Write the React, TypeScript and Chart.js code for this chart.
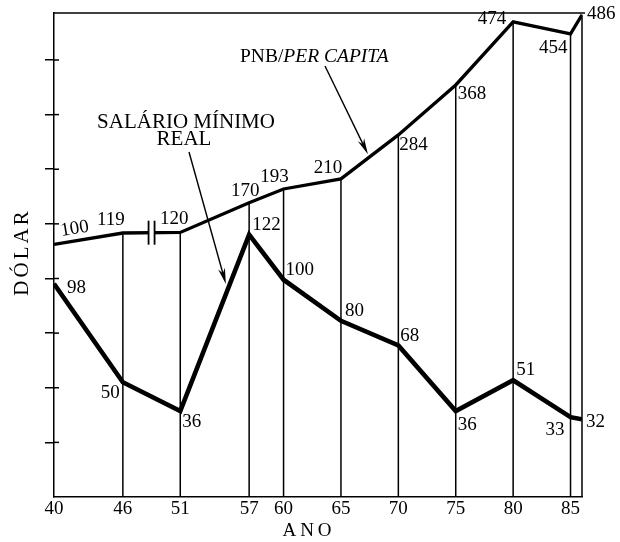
import React, { useEffect, useRef } from 'react';
import { Chart, registerables } from 'chart.js';

Chart.register(...registerables);

// ---- data ----
const anos: number[] = [40, 46, 51, 57, 60, 65, 70, 75, 80, 85, 86];
const anosRotulados: number[] = [40, 46, 51, 57, 60, 65, 70, 75, 80, 85];
const pnbPerCapita: number[] = [100, 119, 120, 170, 193, 210, 284, 368, 474, 454, 486];
const salarioMinimoReal: number[] = [98, 50, 36, 122, 100, 80, 68, 36, 51, 33, 32];
const marcasDolar: number[] = [1, 2, 3, 4, 5, 6, 7, 8];

const tituloX = 'ANO';
const tituloY = 'DÓLAR';
const rotuloPnbA = 'PNB/';
const rotuloPnbB = 'PER CAPITA';
const rotuloSalario1 = 'SALÁRIO MÍNIMO';
const rotuloSalario2 = 'REAL';

// ---- styles / placement ----
const SERIF = '"Liberation Serif", "Times New Roman", serif';

type LabelPos = { dx: number; dy: number; align: CanvasTextAlign };
const pnbLabelPos: LabelPos[] = [
  { dx: -12, dy: -12, align: 'center' },
  { dx: -12, dy: -13, align: 'center' },
  { dx: -6, dy: -13, align: 'center' },
  { dx: -4, dy: -12, align: 'center' },
  { dx: -9, dy: -12, align: 'center' },
  { dx: -13, dy: -11, align: 'center' },
  { dx: 1, dy: 10, align: 'left' },
  { dx: 2, dy: 9, align: 'left' },
  { dx: -7, dy: -3, align: 'right' },
  { dx: -3, dy: 14, align: 'right' },
  { dx: 5, dy: -1, align: 'left' },
];
const salLabelPos: LabelPos[] = [
  { dx: 13, dy: 4, align: 'left' },
  { dx: -3, dy: 11, align: 'right' },
  { dx: 2, dy: 11, align: 'left' },
  { dx: 3, dy: -10, align: 'left' },
  { dx: 2, dy: -10, align: 'left' },
  { dx: 4, dy: -10, align: 'left' },
  { dx: 2, dy: -9, align: 'left' },
  { dx: 2, dy: 14, align: 'left' },
  { dx: 3, dy: -10, align: 'left' },
  { dx: -6, dy: 13, align: 'right' },
  { dx: 4, dy: 3, align: 'left' },
];

function drawArrow(ctx: CanvasRenderingContext2D, x1: number, y1: number, x2: number, y2: number) {
  const a = Math.atan2(y2 - y1, x2 - x1);
  const L = 16;
  const W = 3.5;
  const c = Math.cos(a);
  const s = Math.sin(a);
  ctx.beginPath();
  ctx.moveTo(x1, y1);
  ctx.lineTo(x2 - c * L * 0.6, y2 - s * L * 0.6);
  ctx.stroke();
  ctx.beginPath();
  ctx.moveTo(x2, y2);
  ctx.lineTo(x2 - c * L + s * W, y2 - s * L - c * W);
  ctx.lineTo(x2 - c * L * 0.7, y2 - s * L * 0.7);
  ctx.lineTo(x2 - c * L - s * W, y2 - s * L + c * W);
  ctx.closePath();
  ctx.fill();
}

function patchTitle(scale: any, spacing: string, dx: number, dy: number) {
  if (!scale || scale.__patched) return;
  const orig = scale.drawTitle;
  scale.drawTitle = function (...args: any[]) {
    const c = this.ctx as any;
    c.save();
    c.letterSpacing = spacing;
    c.translate(dx, dy);
    orig.apply(this, args);
    c.restore();
  };
  scale.__patched = true;
}

const decorPlugin = {
  id: 'decor',
  beforeDraw(chart: any) {
    patchTitle(chart.scales.x, '4px', -9, 0);
    patchTitle(chart.scales.yGrid, '3px', 0, -3);
  },
  beforeDatasetsDraw(chart: any) {
    const { ctx, chartArea } = chart;
    const pts = chart.getDatasetMeta(0).data as any[];
    ctx.save();
    ctx.strokeStyle = '#000';
    ctx.lineWidth = 1.5;
    pts.forEach((pt, i) => {
      if (i === 0) return;
      ctx.beginPath();
      ctx.moveTo(pt.x, pt.y);
      ctx.lineTo(pt.x, chartArea.bottom);
      ctx.stroke();
    });
    // top frame
    ctx.beginPath();
    ctx.moveTo(chartArea.left - 1, chartArea.top);
    ctx.lineTo(chartArea.right + 3, chartArea.top);
    ctx.stroke();
    // inner part of the y tick marks (they cross the axis)
    const yg = chart.scales.yGrid;
    marcasDolar.forEach((v) => {
      const y = yg.getPixelForValue(v);
      ctx.beginPath();
      ctx.moveTo(chartArea.left - 1, y);
      ctx.lineTo(chartArea.left + 5, y);
      ctx.stroke();
    });
    ctx.restore();
  },
  afterDatasetsDraw(chart: any) {
    const { ctx, chartArea } = chart;
    const pnb = chart.getDatasetMeta(0).data as any[];
    const sal = chart.getDatasetMeta(1).data as any[];
    ctx.save();

    // break mark on PNB line between 46 and 51
    const b0 = pnb[1];
    const b1 = pnb[2];
    const bx = b0.x + (b1.x - b0.x) * 0.5;
    const by = b0.y + (b1.y - b0.y) * 0.5;
    ctx.strokeStyle = '#fff';
    ctx.lineWidth = 7;
    ctx.beginPath();
    ctx.moveTo(bx - 2.5, by);
    ctx.lineTo(bx + 2.5, by);
    ctx.stroke();
    ctx.strokeStyle = '#000';
    ctx.lineWidth = 1.8;
    [-3, 3].forEach((o) => {
      ctx.beginPath();
      ctx.moveTo(bx + o, by - 12);
      ctx.lineTo(bx + o, by + 12);
      ctx.stroke();
    });

    // value labels
    ctx.fillStyle = '#000';
    ctx.font = `19px ${SERIF}`;
    ctx.textBaseline = 'middle';
    pnb.forEach((pt, i) => {
      const pos = pnbLabelPos[i];
      const txt = String(pnbPerCapita[i]);
      if (i === 0) {
        const p1 = pnb[1];
        const ang = Math.atan2(p1.y - pt.y, p1.x - pt.x);
        ctx.save();
        ctx.translate((pt.x + p1.x) / 2, (pt.y + p1.y) / 2);
        ctx.rotate(ang);
        ctx.textAlign = 'center';
        ctx.fillText(txt, pos.dx, pos.dy);
        ctx.restore();
        return;
      }
      ctx.textAlign = pos.align;
      ctx.fillText(txt, pt.x + pos.dx, pt.y + pos.dy);
    });
    sal.forEach((pt, i) => {
      const pos = salLabelPos[i];
      ctx.textAlign = pos.align;
      ctx.fillText(String(salarioMinimoReal[i]), pt.x + pos.dx, pt.y + pos.dy);
    });

    // series annotations
    const L = chartArea.left;
    const T = chartArea.top;
    ctx.textAlign = 'left';
    ctx.textBaseline = 'alphabetic';
    ctx.font = `19.5px ${SERIF}`;
    const px = L + 186;
    const py = T + 49;
    ctx.fillText(rotuloPnbA, px, py);
    const w1 = ctx.measureText(rotuloPnbA).width;
    ctx.font = `italic 19.5px ${SERIF}`;
    ctx.fillText(rotuloPnbB, px + w1, py);

    ctx.font = `21px ${SERIF}`;
    ctx.textAlign = 'center';
    ctx.fillText(rotuloSalario1, L + 132, T + 115);
    ctx.fillText(rotuloSalario2, L + 130, T + 132);

    // arrows
    ctx.strokeStyle = '#000';
    ctx.fillStyle = '#000';
    ctx.lineWidth = 1.4;
    const a0 = pnb[5];
    const a1 = pnb[6];
    const t1 = 0.47;
    drawArrow(ctx, L + 271, T + 53, a0.x + (a1.x - a0.x) * t1, a0.y + (a1.y - a0.y) * t1 - 4);
    const s0 = sal[2];
    const s1 = sal[3];
    const t2 = 0.72;
    drawArrow(ctx, L + 135, T + 139, s0.x + (s1.x - s0.x) * t2 - 4, s0.y + (s1.y - s0.y) * t2);

    ctx.restore();
  },
};

export default function App() {
  const canvasRef = useRef<HTMLCanvasElement | null>(null);

  useEffect(() => {
    document.body.style.margin = '0';
    const canvas = canvasRef.current;
    if (!canvas) return;
    const chart = new Chart(canvas, {
      type: 'line',
      data: {
        datasets: [
          {
            label: rotuloPnbA + rotuloPnbB,
            data: anos.map((a, i) => ({ x: a, y: pnbPerCapita[i] })),
            yAxisID: 'yP',
            borderColor: '#000',
            borderWidth: 3.3,
            pointRadius: 0,
            tension: 0,
            fill: false,
          },
          {
            label: rotuloSalario1 + ' ' + rotuloSalario2,
            data: anos.map((a, i) => ({ x: a, y: salarioMinimoReal[i] })),
            yAxisID: 'yS',
            borderColor: '#000',
            borderWidth: 4.6,
            pointRadius: 0,
            tension: 0,
            fill: false,
          },
        ],
      },
      options: {
        responsive: false,
        animation: false,
        layout: { padding: { top: 13, right: 38, left: 0, bottom: 0 } },
        plugins: {
          legend: { display: false },
          tooltip: { enabled: false },
        },
        scales: {
          x: {
            type: 'linear',
            position: 'bottom',
            min: 40,
            max: 86,
            afterBuildTicks: (s: any) => {
              s.ticks = anosRotulados.map((v) => ({ value: v }));
            },
            afterFit: (s: any) => {
              s.height = 45;
            },
            ticks: {
              color: '#000',
              font: { family: SERIF, size: 19 },
              padding: 1,
              autoSkip: false,
              maxRotation: 0,
              callback: (v: any) => String(v),
            },
            grid: { display: false, drawTicks: false },
            border: { display: true, color: '#000', width: 1.5 },
            title: {
              display: true,
              text: tituloX,
              color: '#000',
              font: { family: SERIF, size: 19 },
              padding: { top: 0, bottom: 0 },
            },
          },
          yGrid: {
            type: 'linear',
            position: 'left',
            min: 0,
            max: 8.86,
            afterBuildTicks: (s: any) => {
              s.ticks = marcasDolar.map((v) => ({ value: v }));
            },
            afterFit: (s: any) => {
              s.width = 54;
            },
            ticks: { display: false },
            grid: {
              display: true,
              drawOnChartArea: false,
              drawTicks: true,
              tickLength: 9,
              color: '#000',
              lineWidth: 1.5,
            },
            border: { display: true, color: '#000', width: 1.5 },
            title: {
              display: true,
              text: tituloY,
              color: '#000',
              font: { family: SERIF, size: 21 },
              padding: { top: 10, bottom: 0 },
            },
          },
          yS: { type: 'linear', display: false, min: -5.9, max: 230 },
          yP: { type: 'linear', display: false, min: -325, max: 489 },
        },
      } as any,
      plugins: [decorPlugin as any],
    });
    return () => chart.destroy();
  }, []);

  return (
    <div style={{ position: 'absolute', left: 0, top: 0, width: 620, height: 542, background: '#fff' }}>
      <canvas ref={canvasRef} width={620} height={542} style={{ display: 'block' }} />
    </div>
  );
}
